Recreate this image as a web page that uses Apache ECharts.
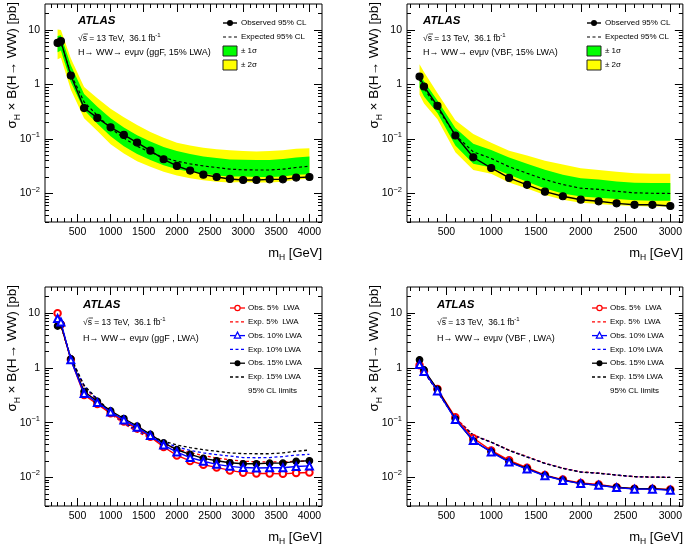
<!DOCTYPE html>
<html><head><meta charset="utf-8">
<script src="https://cdn.jsdelivr.net/npm/echarts@6/dist/echarts.min.js"></script>
<style>html,body{margin:0;padding:0;background:#fff}#c{width:685px;height:545px}</style>
</head><body><div id="c"></div>
<script>
// ---------------- data ----------------
const massGGF = [200,250,400,600,800,1000,1200,1400,1600,1800,2000,2200,2400,2600,2800,3000,3200,3400,3600,3800,4000];
const obsGGF15 = [5.8,6.25,1.46,0.37,0.244,0.164,0.119,0.086,0.061,0.0425,0.032,0.0263,0.0222,0.0201,0.0185,0.0177,0.0177,0.0182,0.0182,0.0196,0.0201];
const expGGF15 = [5.5,5.9,1.55,0.48,0.27,0.158,0.104,0.074,0.057,0.046,0.039,0.035,0.032,0.030,0.028,0.0272,0.027,0.027,0.028,0.030,0.0316];
const up2GGF = [10.2,10.0,3.0,0.9,0.56,0.36,0.25,0.18,0.135,0.105,0.085,0.076,0.069,0.065,0.062,0.060,0.059,0.060,0.062,0.066,0.068];
const up1GGF = [7.8,8.0,2.25,0.67,0.39,0.24,0.163,0.117,0.09,0.071,0.06,0.053,0.048,0.045,0.042,0.0416,0.041,0.041,0.043,0.046,0.048];
const dn1GGF = [3.9,4.2,1.1,0.34,0.19,0.112,0.074,0.053,0.041,0.033,0.028,0.025,0.023,0.0215,0.0205,0.0205,0.020,0.020,0.0205,0.022,0.0226];
const dn2GGF = [2.9,3.1,0.8,0.24,0.14,0.08,0.054,0.039,0.031,0.025,0.0213,0.019,0.0175,0.0165,0.016,0.0162,0.016,0.016,0.0165,0.018,0.0186];

const massVBF = [200,250,400,600,800,1000,1200,1400,1600,1800,2000,2200,2400,2600,2800,3000];
const obsVBF15 = [1.40,0.92,0.406,0.116,0.0462,0.0294,0.0193,0.0144,0.0108,0.0089,0.0077,0.0072,0.0066,0.0062,0.0062,0.0059];
const expVBF15 = [1.25,0.85,0.37,0.118,0.058,0.044,0.031,0.0235,0.018,0.0146,0.0125,0.0119,0.011,0.0103,0.0101,0.0100];
const up2VBF = [2.35,1.7,0.7,0.22,0.124,0.085,0.061,0.05,0.040,0.034,0.029,0.027,0.025,0.0235,0.023,0.023];
const up1VBF = [1.6,1.15,0.51,0.16,0.082,0.063,0.046,0.035,0.0272,0.022,0.019,0.018,0.0166,0.0158,0.0156,0.0156];
const dn1VBF = [0.88,0.6,0.3,0.076,0.035,0.030,0.0222,0.0165,0.0124,0.010,0.0088,0.0084,0.0079,0.0075,0.0074,0.0074];
const dn2VBF = [0.65,0.45,0.23,0.057,0.027,0.023,0.016,0.0124,0.0094,0.0077,0.0068,0.0064,0.0061,0.0059,0.0058,0.0058];

const obsGGF5  = [9.9,6.2,1.42,0.32,0.218,0.148,0.105,0.078,0.055,0.0359,0.0252,0.020,0.017,0.0152,0.0134,0.0122,0.0118,0.0118,0.0116,0.0120,0.0123];
const obsGGF10 = [8.0,6.9,1.40,0.34,0.232,0.156,0.112,0.082,0.058,0.039,0.029,0.023,0.0197,0.0173,0.0159,0.0151,0.0148,0.0150,0.0150,0.0158,0.0162];
const expGGF5  = [8.5,6.0,1.45,0.45,0.25,0.146,0.095,0.068,0.052,0.041,0.033,0.0284,0.025,0.0225,0.021,0.0197,0.0193,0.0192,0.0192,0.0196,0.020];
const expGGF10 = [6.3,6.2,1.5,0.47,0.26,0.152,0.099,0.071,0.055,0.044,0.036,0.031,0.028,0.026,0.0245,0.023,0.0228,0.023,0.024,0.0255,0.0264];

const obsVBF5  = [1.12,0.87,0.41,0.125,0.052,0.031,0.0205,0.015,0.011,0.0091,0.0079,0.0074,0.0066,0.0062,0.0062,0.0060];
const obsVBF10 = [1.15,0.86,0.38,0.114,0.047,0.029,0.019,0.0142,0.0107,0.0088,0.0077,0.0072,0.0065,0.0061,0.0061,0.0058];
const expVBF5  = [1.2,0.85,0.38,0.122,0.06,0.044,0.0315,0.024,0.0182,0.0148,0.0126,0.012,0.011,0.0103,0.0101,0.0100];
const expVBF10 = [1.22,0.85,0.37,0.12,0.059,0.044,0.031,0.0237,0.018,0.0147,0.0125,0.0119,0.011,0.0103,0.0101,0.0100];

const xMajorGGF = [500,1000,1500,2000,2500,3000,3500,4000];
const xMajorVBF = [500,1000,1500,2000,2500,3000];
const yMajor = [0.01,0.1,1,10];

// ---------------- layout ----------------
const F = '"Liberation Sans", Arial, Helvetica, sans-serif';
const panels = [
  {left:45,  top:4,   width:277, height:218, xmin:10, xmax:4190, major:xMajorGGF},
  {left:407, top:4,   width:276, height:218, xmin:60, xmax:3140, major:xMajorVBF},
  {left:45,  top:287, width:277, height:219, xmin:10, xmax:4190, major:xMajorGGF},
  {left:407, top:287, width:276, height:219, xmin:60, xmax:3140, major:xMajorVBF}
];
const yMinor = [];
[0.001,0.01,0.1,1,10].forEach(d => { for (let k=2;k<=9;k++){ const v=+(k*d).toPrecision(3); if (v>0.0029 && v<29) yMinor.push(v);} });

const grid=[], xAxis=[], yAxis=[];
panels.forEach((p,g) => {
  grid.push({left:p.left, top:p.top, width:p.width, height:p.height, show:true, borderColor:'#000', borderWidth:1, backgroundColor:'transparent', containLabel:false});
  const xMinor=[]; for (let v=100; v<p.xmax; v+=100) if (v>p.xmin && p.major.indexOf(v)<0) xMinor.push(v);
  const xb = {gridIndex:g, type:'value', min:p.xmin, max:p.xmax, axisLine:{show:false}, splitLine:{show:false}, silent:true};
  const tk = (vals,len)=>({show:true, inside:true, length:len, customValues:vals, lineStyle:{color:'#000', width:1}});
  xAxis.push(Object.assign({}, xb, {position:'bottom', axisTick:tk(p.major,8), axisLabel:{show:true, customValues:p.major, color:'#000', fontSize:10.5, fontFamily:F, margin:5, formatter: v => String(Math.round(v))}}));
  xAxis.push(Object.assign({}, xb, {position:'bottom', axisTick:tk(xMinor,4), axisLabel:{show:false}}));
  xAxis.push(Object.assign({}, xb, {position:'top', axisTick:tk(p.major,8), axisLabel:{show:false}}));
  xAxis.push(Object.assign({}, xb, {position:'top', axisTick:tk(xMinor,4), axisLabel:{show:false}}));
  const yb = {gridIndex:g, type:'log', logBase:10, min:0.003, max:30, axisLine:{show:false}, splitLine:{show:false}, silent:true};
  yAxis.push(Object.assign({}, yb, {position:'left', axisTick:tk(yMajor,8), axisLabel:{show:true, customValues:yMajor, color:'#000', fontSize:10.5, fontFamily:F, margin:5, lineHeight:16,
    formatter: v => { const e=Math.round(Math.log10(v)); if(e===0) return '1'; if(e===1) return '10'; return '10{sup|\u2212'+(-e)+'}'; },
    rich:{sup:{fontSize:7.5, lineHeight:8, verticalAlign:'top', fontFamily:F, color:'#000'}}}}));
  yAxis.push(Object.assign({}, yb, {position:'left', axisTick:tk(yMinor,4), axisLabel:{show:false}}));
  yAxis.push(Object.assign({}, yb, {position:'right', axisTick:tk(yMajor,8), axisLabel:{show:false}}));
  yAxis.push(Object.assign({}, yb, {position:'right', axisTick:tk(yMinor,4), axisLabel:{show:false}}));
});

// ---------------- series helpers ----------------
function band(g, xs, lo, hi, color, z) {
  return {type:'custom', xAxisIndex:4*g, yAxisIndex:4*g, z:z, silent:true, animation:false,
    data:[[xs[0], hi[0]]],
    renderItem:(params, api) => {
      const pts=[];
      for (let i=0;i<xs.length;i++) pts.push(api.coord([xs[i], hi[i]]));
      for (let i=xs.length-1;i>=0;i--) pts.push(api.coord([xs[i], lo[i]]));
      return {type:'polygon', shape:{points:pts}, style:{fill:color}};
    }};
}
function line(g, xs, ys, o) {
  return {type:'line', xAxisIndex:4*g, yAxisIndex:4*g, z:o.z||5, animation:false, silent:true,
    data: xs.map((x,i)=>[x, ys[i]]),
    symbol:o.symbol||'none', symbolSize:o.size||6, showSymbol: !!o.symbol,
    lineStyle:{color:o.color, width:o.width||1.3, type:o.type||'solid'},
    itemStyle:{color:o.color, borderColor:o.color, borderWidth:1.2}};
}
const dash=[3,2.5];
const series = [
  band(0, massGGF, dn2GGF, up2GGF, '#ffff00', 1),
  band(0, massGGF, dn1GGF, up1GGF, '#00ff00', 2),
  line(0, massGGF, expGGF15, {color:'#000', type:dash, width:1.2, z:4}),
  line(0, massGGF, obsGGF15, {color:'#000', symbol:'circle', size:7, width:1.4, z:5}),

  band(1, massVBF, dn2VBF, up2VBF, '#ffff00', 1),
  band(1, massVBF, dn1VBF, up1VBF, '#00ff00', 2),
  line(1, massVBF, expVBF15, {color:'#000', type:dash, width:1.2, z:4}),
  line(1, massVBF, obsVBF15, {color:'#000', symbol:'circle', size:7, width:1.4, z:5}),

  line(2, massGGF, expGGF5,  {color:'#ff0000', type:dash, width:1.3, z:3}),
  line(2, massGGF, expGGF10, {color:'#0000ff', type:dash, width:1.3, z:3}),
  line(2, massGGF, expGGF15, {color:'#000', type:dash, width:1.3, z:3}),
  line(2, massGGF, obsGGF5,  {color:'#ff0000', symbol:'emptyCircle', size:6.5, width:1.4, z:5}),
  line(2, massGGF, obsGGF15, {color:'#000', symbol:'circle', size:6.5, width:1.4, z:6}),
  line(2, massGGF, obsGGF10, {color:'#0000ff', symbol:'emptyTriangle', size:7, width:1.4, z:7}),

  line(3, massVBF, expVBF5,  {color:'#ff0000', type:dash, width:1.3, z:3}),
  line(3, massVBF, expVBF10, {color:'#0000ff', type:dash, width:1.3, z:3}),
  line(3, massVBF, expVBF15, {color:'#000', type:dash, width:1.3, z:3}),
  line(3, massVBF, obsVBF5,  {color:'#ff0000', symbol:'emptyCircle', size:6.5, width:1.4, z:5}),
  line(3, massVBF, obsVBF15, {color:'#000', symbol:'circle', size:6.5, width:1.4, z:6}),
  line(3, massVBF, obsVBF10, {color:'#0000ff', symbol:'emptyTriangle', size:7, width:1.4, z:7})
];

// ---------------- text / legends ----------------
const G = [];
function txt(x,y,text,o){ o=o||{}; G.push({type:'text', x:x, y:y, rotation:o.rot||0, z:100, silent:true,
  style:{text:text, fill:'#000', fontFamily:F, fontSize:o.size||9, fontWeight:o.weight||'normal', fontStyle:o.style||'normal',
  align:o.align||'left', verticalAlign:'middle', rich:o.rich}}); }
const supRich = (fs)=>({sup:{fontSize:fs, verticalAlign:'top', lineHeight:fs, fontFamily:F, fill:'#000'}, n:{fontSize:fs+2.5, lineHeight:fs+8, fontFamily:F}});
const subRich = (fs, big)=>({sub:{fontSize:fs, verticalAlign:'bottom', lineHeight:fs, fontFamily:F}, n:{fontSize:big, lineHeight:big+6, fontFamily:F}});

const procText = ['H\u2192 WW\u2192 e\u03bd\u03bc\u03bd (ggF, 15% LWA)','H\u2192 WW\u2192 e\u03bd\u03bc\u03bd (VBF, 15% LWA)','H\u2192 WW\u2192 e\u03bd\u03bc\u03bd (ggF , LWA)','H\u2192 WW\u2192 e\u03bd\u03bc\u03bd (VBF , LWA)'];
const labelPos = [{x:78,y:21},{x:423,y:21},{x:83,y:305},{x:437,y:305}];
labelPos.forEach((p,i)=>{
  txt(p.x, p.y, 'ATLAS', {size:11.5, weight:'bold', style:'italic'});
  const dy = 18;
  txt(p.x, p.y+dy, '{n|\u221as = 13 TeV,  36.1 fb}{sup|-1}', {rich:supRich(6)});
  G.push({type:'line', z:100, silent:true, shape:{x1:p.x+5.5, y1:p.y+dy-5, x2:p.x+10, y2:p.y+dy-5}, style:{stroke:'#000', lineWidth:0.7}});
  txt(p.x, p.y+dy+(i<2?14:16), procText[i], {size:9});
});
// axis titles
panels.forEach(p=>{
  txt(p.left+p.width, p.top+p.height+31, '{n|m}{sub|H}{n| [GeV]}', {align:'right', rich:subRich(8.5, 13)});
  txt(p.left-33, p.top-2, '{n|\u03c3}{sub|H}{n| \u00d7 B(H\u2192 WW) [pb]}', {align:'right', rot:Math.PI/2, rich:subRich(8.5, 13.5)});
});
// top legends
[{x:223},{x:587}].forEach(L=>{
  const y0=23;
  G.push({type:'line', z:100, silent:true, shape:{x1:L.x, y1:y0, x2:L.x+14, y2:y0}, style:{stroke:'#000', lineWidth:1.4}});
  G.push({type:'circle', z:101, silent:true, shape:{cx:L.x+7, cy:y0, r:3}, style:{fill:'#000'}});
  txt(L.x+18, y0, 'Observed 95% CL', {size:8});
  G.push({type:'line', z:100, silent:true, shape:{x1:L.x, y1:y0+14, x2:L.x+14, y2:y0+14}, style:{stroke:'#000', lineWidth:1.2, lineDash:dash}});
  txt(L.x+18, y0+14, 'Expected 95% CL', {size:8});
  G.push({type:'rect', z:100, silent:true, shape:{x:L.x, y:y0+23, width:14, height:10}, style:{fill:'#00ff00', stroke:'#222', lineWidth:1}});
  txt(L.x+18, y0+28, '\u00b1 1\u03c3', {size:8});
  G.push({type:'rect', z:100, silent:true, shape:{x:L.x, y:y0+37, width:14, height:10}, style:{fill:'#ffff00', stroke:'#222', lineWidth:1}});
  txt(L.x+18, y0+42, '\u00b1 2\u03c3', {size:8});
});
// bottom legends
const botItems = [
  {t:'Obs. 5%  LWA', c:'#ff0000', m:'circle'},
  {t:'Exp. 5%  LWA', c:'#ff0000', d:true},
  {t:'Obs. 10% LWA', c:'#0000ff', m:'tri'},
  {t:'Exp. 10% LWA', c:'#0000ff', d:true},
  {t:'Obs. 15% LWA', c:'#000', m:'fill'},
  {t:'Exp. 15% LWA', c:'#000', d:true}
];
[{x:230},{x:592}].forEach(L=>{
  botItems.forEach((it,k)=>{
    const y = 308 + k*13.8;
    G.push({type:'line', z:100, silent:true, shape:{x1:L.x, y1:y, x2:L.x+15, y2:y}, style:{stroke:it.c, lineWidth:1.3, lineDash:it.d?dash:null}});
    const cx=L.x+7.5;
    if (it.m==='circle') G.push({type:'circle', z:101, silent:true, shape:{cx:cx, cy:y, r:2.6}, style:{fill:'#fff', stroke:it.c, lineWidth:1.2}});
    if (it.m==='fill') G.push({type:'circle', z:101, silent:true, shape:{cx:cx, cy:y, r:3}, style:{fill:'#000'}});
    if (it.m==='tri') G.push({type:'polygon', z:101, silent:true, shape:{points:[[cx,y-3.5],[cx-3.2,y+2.5],[cx+3.2,y+2.5]]}, style:{fill:'#fff', stroke:it.c, lineWidth:1.2}});
    txt(L.x+18, y, it.t, {size:8});
  });
  txt(L.x+18, 308+6*13.8, '95% CL limits', {size:8});
});

const chart = echarts.init(document.getElementById('c'), null, {renderer:'canvas'});
chart.setOption({animation:false, backgroundColor:'#fff', grid, xAxis, yAxis, series, graphic:G});
</script></body></html>
